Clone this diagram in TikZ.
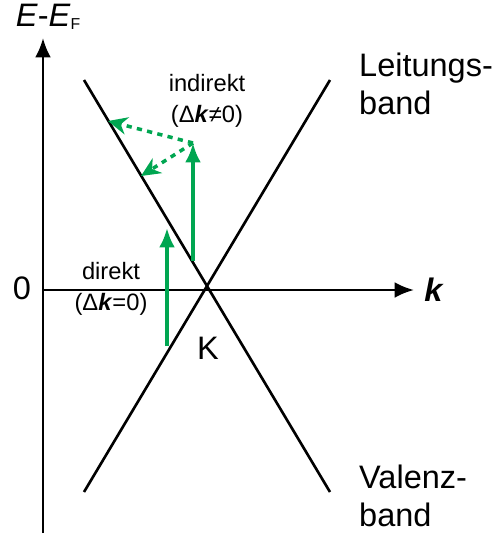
\documentclass[tikz,border=0pt]{standalone}
\usepackage{fontspec}
\setmainfont{Liberation Sans}
\usetikzlibrary{arrows.meta}
\definecolor{trgreen}{RGB}{0,166,81}
\begin{document}
\begin{tikzpicture}[
    x=0.02cm, y=-0.02cm,
    axis/.style={line width=1.5pt, -{Latex[length=11pt, width=9pt]}},
    band/.style={line width=1.5pt},
    trans/.style={line width=2pt, trgreen, -{Latex[length=11pt, width=9pt]}},
    scatter/.style={line width=2pt, trgreen, dash pattern=on 3pt off 3pt, -{Stealth[length=11pt, width=10pt]}},
    big/.style={font=\fontsize{18.5}{22}\selectfont},
    small/.style={font=\fontsize{13.5}{17}\selectfont, align=center}
]
\useasboundingbox (0,0) rectangle (504,538);

% Axes
\coordinate (ebot) at (43,533);
\coordinate (etop) at (43,38);
\coordinate (korig) at (43,290);
\coordinate (kend) at (414,290);
\draw[axis] (ebot) -- (etop);
\draw[axis] (korig) -- (kend);
\node[big, anchor=south] (elabel) at (48,36) {\textit{E}-\textit{E}\raisebox{-2pt}{\fontsize{9}{9}\selectfont F}};
\node[big] (zero) at (22,288) {0};
\node[big] (klabel) at (434,290) {\textbf{\textit{k}}};

% Bands (Dirac cone)
\coordinate (kpt) at (206,290);
\coordinate (cl) at (84,80);
\coordinate (cr) at (330,80);
\coordinate (vl) at (84,492);
\coordinate (vr) at (330,492);
\draw[band] (cl) -- (vr);
\draw[band] (cr) -- (vl);
\node[big] (kname) at (208,348) {K};
\node[big, anchor=west, align=left] (leitung) at (353,84) {Leitungs-\\band};
\node[big, anchor=west, align=left] (valenz) at (353,496) {Valenz-\\band};

% Direct transition
\coordinate (d0) at (167,346);
\coordinate (d1) at (167,228);
\draw[trans] (d0) -- (d1);
\node[small] (direkt) at (111,289) {direkt\\[1pt](Δ\textbf{\textit{k}}=0)};

% Indirect transition
\coordinate (i0) at (193,261);
\coordinate (i1) at (193,143);
\coordinate (s1) at (108,121);
\coordinate (s2) at (141,176);
\draw[trans] (i0) -- (i1);
\draw[scatter] (i1) -- (s1);
\draw[scatter] (i1) -- (s2);
\node[small] (indirekt) at (207,101) {indirekt\\[1pt](Δ\textbf{\textit{k}}≠0)};
\end{tikzpicture}
\end{document}
